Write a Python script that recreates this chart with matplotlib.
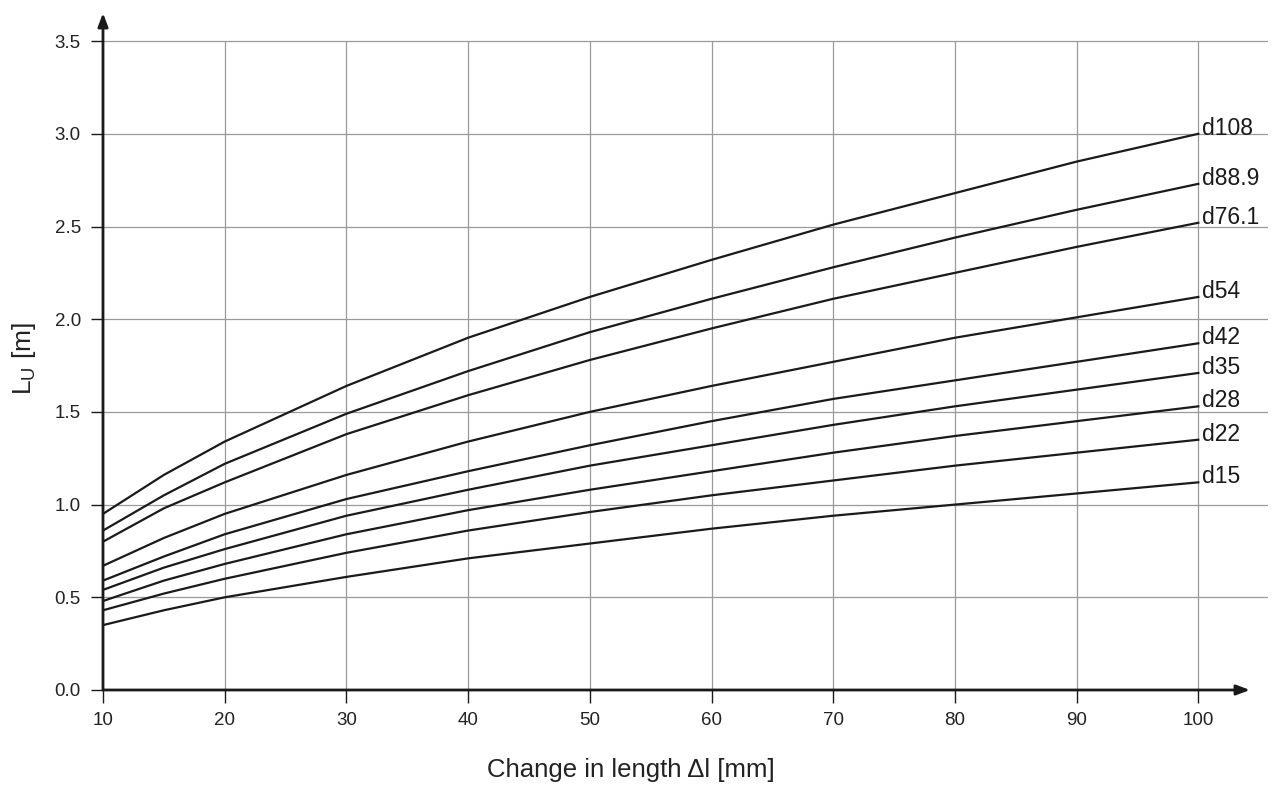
import matplotlib.pyplot as plt
import numpy as np

plt.rcParams['font.family'] = ['Liberation Sans', 'DejaVu Sans']

# Change in length [mm]
dl = [10, 15, 20, 30, 40, 50, 60, 70, 80, 90, 100]

# L_U [m] per pipe diameter
pipes = ['d108', 'd88.9', 'd76.1', 'd54', 'd42', 'd35', 'd28', 'd22', 'd15']
lu_d108 = [0.95, 1.16, 1.34, 1.64, 1.90, 2.12, 2.32, 2.51, 2.68, 2.85, 3.00]
lu_d889 = [0.86, 1.05, 1.22, 1.49, 1.72, 1.93, 2.11, 2.28, 2.44, 2.59, 2.73]
lu_d761 = [0.80, 0.98, 1.12, 1.38, 1.59, 1.78, 1.95, 2.11, 2.25, 2.39, 2.52]
lu_d54 = [0.67, 0.82, 0.95, 1.16, 1.34, 1.50, 1.64, 1.77, 1.90, 2.01, 2.12]
lu_d42 = [0.59, 0.72, 0.84, 1.03, 1.18, 1.32, 1.45, 1.57, 1.67, 1.77, 1.87]
lu_d35 = [0.54, 0.66, 0.76, 0.94, 1.08, 1.21, 1.32, 1.43, 1.53, 1.62, 1.71]
lu_d28 = [0.48, 0.59, 0.68, 0.84, 0.97, 1.08, 1.18, 1.28, 1.37, 1.45, 1.53]
lu_d22 = [0.43, 0.52, 0.60, 0.74, 0.86, 0.96, 1.05, 1.13, 1.21, 1.28, 1.35]
lu_d15 = [0.35, 0.43, 0.50, 0.61, 0.71, 0.79, 0.87, 0.94, 1.00, 1.06, 1.12]
series = [lu_d108, lu_d889, lu_d761, lu_d54, lu_d42, lu_d35, lu_d28, lu_d22, lu_d15]

xticks = [10, 20, 30, 40, 50, 60, 70, 80, 90, 100]
yticks = [0.0, 0.5, 1.0, 1.5, 2.0, 2.5, 3.0, 3.5]

fig = plt.figure(figsize=(12.72, 7.87), dpi=100)
ax = fig.add_axes([103 / 1272, 1 - 690 / 787, 1165 / 1272, 677 / 787])
xmax = 10 + 1165 / 12.17
ymax = 677 / 185.4
ax.set_xlim(10, xmax)
ax.set_ylim(0, ymax)

# grid
grid_c = '#9a9a9a'
ax.hlines(yticks[1:], 10, xmax, color=grid_c, lw=0.9, zorder=1)
ax.vlines(xticks[1:], 0, yticks[-1], color=grid_c, lw=0.9, zorder=1)

# curves
for name, vals in zip(pipes, series):
    ax.plot(dl, vals, color='#1a1a1a', lw=1.6, zorder=3)
    ax.annotate(name, (dl[-1], vals[-1]), xytext=(3, 4), textcoords='offset points',
                ha='left', va='center', fontsize=16.5, color='#1a1a1a')

# axes with arrows
for s in ax.spines.values():
    s.set_visible(False)
ax.annotate('', xy=(10, ymax), xytext=(10, 0),
            arrowprops=dict(arrowstyle='-|>,head_length=0.8,head_width=0.3', color='#1a1a1a', lw=2,
                            shrinkA=0, shrinkB=0), annotation_clip=False)
ax.annotate('', xy=(10 + 1147 / 12.17, 0), xytext=(10, 0),
            arrowprops=dict(arrowstyle='-|>,head_length=0.8,head_width=0.3', color='#1a1a1a', lw=2,
                            shrinkA=0, shrinkB=0), annotation_clip=False)

ax.set_xticks(xticks)
ax.set_yticks(yticks)
ax.set_yticklabels([f'{v:.1f}' for v in yticks])
ax.tick_params(axis='both', length=9, width=1, color='#1a1a1a', labelsize=13.5, labelcolor='#222222', pad=7)

fig.text(631 / 1272, 1 - 770 / 787, 'Change in length \u0394l [mm]', ha='center', va='center',
         fontsize=18.5, color='#222222')
fig.text(24 / 1272, 1 - 358 / 787, 'L$_\\mathregular{U}$ [m]', ha='center', va='center',
         rotation=90, fontsize=19, color='#222222')

fig.savefig('out.png', dpi=100)
